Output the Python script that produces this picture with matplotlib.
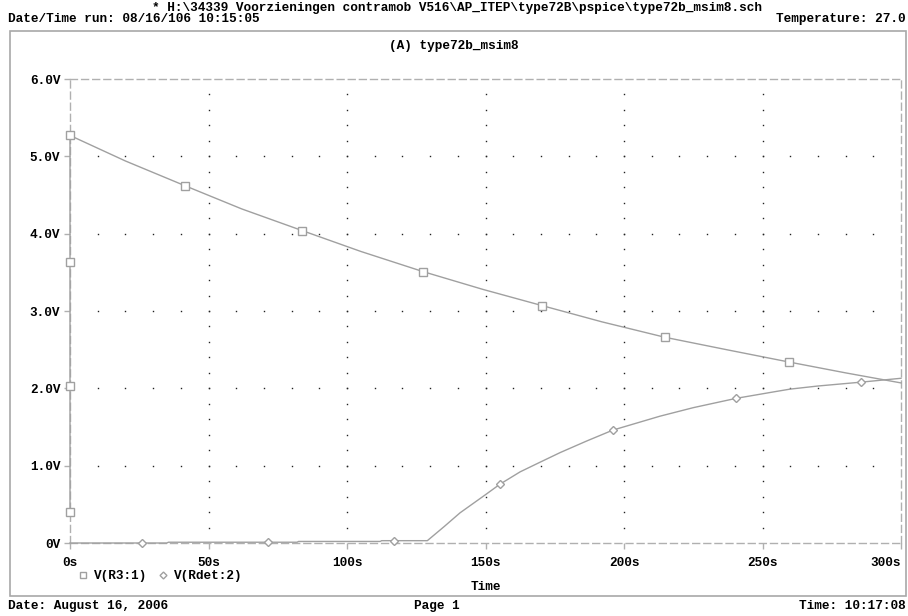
import matplotlib
matplotlib.use("Agg")
import matplotlib.pyplot as plt
from matplotlib.lines import Line2D
from matplotlib.patches import Rectangle
import numpy as np

# V(R3:1) - starts with a near-vertical step at t=0, then decays
r3_t = [0, 0, 0, 0, 20, 41.5, 62, 83.8, 105, 127.4, 149, 170.4, 192, 214.8, 237, 259.6, 280, 300]
r3_v = [0.40, 2.03, 3.63, 5.27, 4.94, 4.62, 4.32, 4.04, 3.77, 3.51, 3.28, 3.07, 2.86, 2.66, 2.50, 2.34, 2.20, 2.07]
r3_marks = [0, 1, 2, 3, 5, 7, 9, 11, 13, 15]

# V(Rdet:2) - stays near zero, then rises after ~129 s
rd_t = [0, 26, 35, 35.5, 71.5, 82, 82.5, 112, 112.5, 117, 129, 135, 140.8, 145.5, 150.2, 155.2,
        162.5, 170, 177, 186.6, 196, 213, 225, 240.4, 255, 260, 270, 285.6, 300]
rd_v = [0.0, 0.0, 0.0, 0.01, 0.01, 0.01, 0.02, 0.02, 0.03, 0.03, 0.03, 0.21, 0.39, 0.51, 0.63, 0.76,
        0.92, 1.05, 1.17, 1.32, 1.46, 1.64, 1.75, 1.87, 1.96, 1.99, 2.03, 2.08, 2.13]
rd_marks = [1, 4, 9, 15, 20, 23, 27]

x_ticks = [0, 50, 100, 150, 200, 250, 300]
x_labels = ["0s", "50s", "100s", "150s", "200s", "250s", "300s"]
y_ticks = [0, 1, 2, 3, 4, 5, 6]
y_labels = ["0V", "1.0V", "2.0V", "3.0V", "4.0V", "5.0V", "6.0V"]

FONT = dict(family="Liberation Mono", weight="bold", size=9.2)
LINE = "#a0a0a0"
FRAME = "#b0b0b0"

fig = plt.figure(figsize=(9.08, 6.16), dpi=100)
W, H = 908, 616
ax = fig.add_axes([70 / W, 73 / H, 831 / W, 464 / H])

# dotted grid: minor steps along major lines
xs_minor = np.arange(0, 301, 10)
ys_minor = np.arange(0, 6.01, 0.2)
gx, gy = [], []
for yv in y_ticks[1:-1]:
    for xv in xs_minor[1:-1]:
        gx.append(xv); gy.append(yv)
for xv in x_ticks[1:-1]:
    for yv in ys_minor[1:-1]:
        gx.append(xv); gy.append(yv)
ax.plot(gx, gy, ls="none", marker="s", ms=1.0, mew=0, color="#222222", zorder=1)

ax.plot(r3_t, r3_v, color=LINE, lw=1.0, marker="s", ms=5.5, mfc="white", mec=LINE, mew=1.0,
        markevery=r3_marks, zorder=3, clip_on=False)
ax.plot(rd_t, rd_v, color=LINE, lw=1.0, marker="D", ms=4.0, mfc="white", mec=LINE, mew=1.0,
        markevery=rd_marks, zorder=3, clip_on=False)

ax.set_xlim(0, 300)
ax.set_ylim(0, 6)
ax.set_xticks(x_ticks)
ax.set_xticklabels(x_labels, fontdict=FONT)
ax.get_xticklabels()[-1].set_horizontalalignment("right")
ax.set_yticks(y_ticks)
ax.set_yticklabels(y_labels, fontdict=FONT)
ax.tick_params(axis="both", direction="out", length=4, color=FRAME, width=1)
ax.tick_params(axis="x", pad=6)
ax.tick_params(axis="y", pad=3)
for s in ax.spines.values():
    s.set_color(FRAME)
    s.set_linestyle((0, (5, 3)))
    s.set_linewidth(1.0)
ax.set_xlabel("Time", fontdict=FONT, labelpad=9)

# legend below the axis
handles = [Line2D([], [], ls="none", marker="s", ms=4.5, mfc="white", mec=LINE),
           Line2D([], [], ls="none", marker="D", ms=3.5, mfc="white", mec=LINE)]
fig.legend(handles, ["V(R3:1)", "V(Rdet:2)"], loc="center left",
           bbox_to_anchor=(66 / W, 1 - 576 / H), ncol=2, frameon=False,
           handlelength=0.8, handletextpad=0.5, columnspacing=0.8,
           prop=dict(family="Liberation Mono", weight="bold", size=9.2))

# outer page frame
fig.patches.append(Rectangle((10 / W, 1 - 596 / H), 896 / W, 565 / H, transform=fig.transFigure,
                             fill=False, ec="#a8a8a8", lw=1.2))

fig.text(457 / W, 1 - 8 / H, r"* H:\34339 Voorzieningen contramob V516\AP_ITEP\type72B\pspice\type72b_msim8.sch",
         ha="center", va="center", **FONT)
fig.text(8 / W, 1 - 19 / H, "Date/Time run: 08/16/106 10:15:05", ha="left", va="center", **FONT)
fig.text(906 / W, 1 - 19 / H, "Temperature: 27.0", ha="right", va="center", **FONT)
fig.text(454 / W, 1 - 46 / H, "(A) type72b_msim8", ha="center", va="center", **FONT)
fig.text(8 / W, 1 - 606 / H, "Date: August 16, 2006", ha="left", va="center", **FONT)
fig.text(437 / W, 1 - 606 / H, "Page 1", ha="center", va="center", **FONT)
fig.text(906 / W, 1 - 606 / H, "Time: 10:17:08", ha="right", va="center", **FONT)

fig.savefig("out.png", dpi=100, facecolor="white")
plt.close(fig)
